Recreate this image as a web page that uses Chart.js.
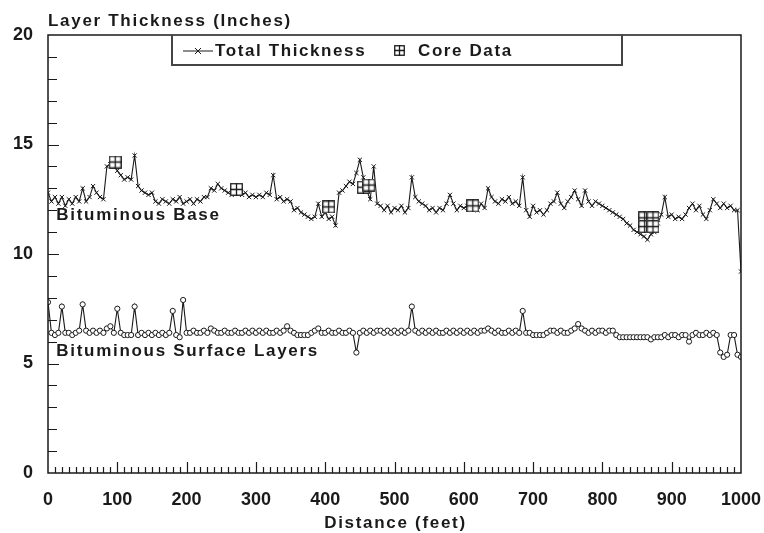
<!DOCTYPE html>
<html>
<head>
<meta charset="utf-8">
<script src="https://cdn.jsdelivr.net/npm/chart.js@4/dist/chart.umd.min.js"></script>
<style>
	html, body { margin: 0; padding: 0; background: #fff; }
	canvas { display: block; }
</style>
</head>
<body>
<canvas id="layer-chart" width="764" height="533"></canvas>
<script>
//distance along the section, one reading every 5 feet
let distance = [];
for (let d = 0; d <= 1000; d += 5) distance.push(d);

//total thickness (inches), 0 to 1000 ft
let totalThickness = [
	12.8, 12.4, 12.6, 12.3, 12.6, 12.2, 12.5, 12.3, 12.6, 12.4,
	13.0, 12.4, 12.6, 13.1, 12.8, 12.6, 12.5, 14.0, 14.1, 14.2,
	13.8, 13.6, 13.4, 13.5, 13.4, 14.5, 13.1, 12.9, 12.8, 12.7,
	12.8, 12.4, 12.3, 12.5, 12.4, 12.3, 12.5, 12.4, 12.6, 12.3,
	12.4, 12.5, 12.3, 12.5, 12.4, 12.6, 12.6, 13.0, 12.9, 13.2,
	13.0, 12.9, 12.8, 12.7, 12.9, 12.8, 12.7, 12.8, 12.6, 12.7,
	12.6, 12.7, 12.6, 12.8, 12.7, 13.6, 12.5, 12.6, 12.4, 12.5,
	12.4, 12.0, 12.1, 11.9, 11.8, 11.7, 11.6, 11.7, 12.3, 11.7,
	11.9, 11.6, 11.7, 11.3, 12.8, 12.9, 13.1, 13.3, 13.2, 13.7,
	14.3, 13.5, 12.9, 12.5, 14.0, 12.3, 12.2, 12.0, 12.2, 11.9,
	12.1, 12.0, 12.2, 11.9, 12.1, 13.5, 12.6, 12.4, 12.3, 12.2,
	12.0, 12.1, 11.9, 12.1, 12.0, 12.3, 12.7, 12.3, 12.0, 12.2,
	12.1, 12.2, 12.1, 12.2, 12.0, 12.3, 12.1, 13.0, 12.6, 12.4,
	12.3, 12.5, 12.4, 12.6, 12.3, 12.4, 12.2, 13.5, 12.0, 11.7,
	12.2, 11.9, 12.0, 11.8, 12.0, 12.3, 12.4, 12.8, 12.3, 12.1,
	12.4, 12.6, 12.9, 12.5, 12.2, 12.9, 12.4, 12.2, 12.4, 12.3,
	12.2, 12.1, 12.0, 11.9, 11.8, 11.7, 11.6, 11.4, 11.3, 11.1,
	11.0, 10.9, 10.8, 10.65, 10.9, 11.0, 11.4, 11.8, 12.6, 11.7,
	11.8, 11.6, 11.7, 11.6, 11.8, 12.1, 12.3, 12.0, 12.2, 11.8,
	11.6, 12.0, 12.5, 12.3, 12.1, 12.3, 12.1, 12.2, 12.0, 12.0,
	9.2
];

//bituminous surface layers (inches), 0 to 1000 ft
let surfaceLayers = [
	7.8, 6.4, 6.3, 6.4, 7.6, 6.4, 6.4, 6.3, 6.4, 6.5,
	7.7, 6.5, 6.4, 6.5, 6.4, 6.5, 6.4, 6.6, 6.7, 6.4,
	7.5, 6.4, 6.3, 6.3, 6.3, 7.6, 6.3, 6.4, 6.3, 6.4,
	6.3, 6.4, 6.3, 6.4, 6.3, 6.4, 7.4, 6.3, 6.2, 7.9,
	6.4, 6.4, 6.5, 6.4, 6.4, 6.5, 6.4, 6.6, 6.5, 6.4,
	6.4, 6.5, 6.4, 6.4, 6.5, 6.4, 6.4, 6.5, 6.4, 6.5,
	6.4, 6.5, 6.4, 6.5, 6.4, 6.4, 6.5, 6.4, 6.5, 6.7,
	6.5, 6.4, 6.3, 6.3, 6.3, 6.3, 6.4, 6.5, 6.6, 6.4,
	6.4, 6.5, 6.4, 6.4, 6.5, 6.4, 6.4, 6.5, 6.4, 5.5,
	6.4, 6.5, 6.4, 6.5, 6.4, 6.5, 6.5, 6.4, 6.5, 6.4,
	6.5, 6.4, 6.5, 6.4, 6.5, 7.6, 6.5, 6.4, 6.5, 6.4,
	6.5, 6.4, 6.5, 6.4, 6.4, 6.5, 6.4, 6.5, 6.4, 6.5,
	6.4, 6.5, 6.4, 6.5, 6.4, 6.5, 6.5, 6.6, 6.5, 6.4,
	6.5, 6.4, 6.4, 6.5, 6.4, 6.5, 6.4, 7.4, 6.4, 6.4,
	6.3, 6.3, 6.3, 6.3, 6.4, 6.5, 6.5, 6.4, 6.5, 6.4,
	6.4, 6.5, 6.6, 6.8, 6.6, 6.5, 6.4, 6.5, 6.4, 6.5,
	6.5, 6.4, 6.5, 6.5, 6.3, 6.2, 6.2, 6.2, 6.2, 6.2,
	6.2, 6.2, 6.2, 6.2, 6.1, 6.2, 6.2, 6.2, 6.3, 6.2,
	6.3, 6.3, 6.2, 6.3, 6.3, 6.0, 6.3, 6.4, 6.3, 6.3,
	6.4, 6.3, 6.4, 6.3, 5.5, 5.3, 5.4, 6.3, 6.3, 5.4,
	5.3
];

//core samples
let coreDistance = [97, 272, 405, 455, 463, 613, 861, 873, 861, 873];
let coreThickness = [14.2, 12.95, 12.15, 13.05, 13.15, 12.2, 11.65, 11.65, 11.25, 11.25];

//tick labels
let xTicks = [0, 100, 200, 300, 400, 500, 600, 700, 800, 900, 1000];
let yTicks = [0, 5, 10, 15, 20];

const fontName = '"Liberation Sans", Arial, sans-serif';
const ink = "#1a1a1a";

//boxed plus marker for the core data
function makeCoreIcon(size) {
	let c = document.createElement("canvas");
	c.width = size;
	c.height = size;
	let g = c.getContext("2d");
	g.fillStyle = "#fff";
	g.fillRect(0, 0, size, size);
	g.strokeStyle = ink;
	g.lineWidth = 1.3;
	g.strokeRect(0.75, 0.75, size - 1.5, size - 1.5);
	g.beginPath();
	g.moveTo(size / 2, 0);
	g.lineTo(size / 2, size);
	g.moveTo(0, size / 2);
	g.lineTo(size, size / 2);
	g.stroke();
	return c;
}
let coreIcon = makeCoreIcon(13);
let coreLegendIcon = makeCoreIcon(11);

//frame, minor ticks, texts, legend
let decorations = {
	id: "decorations",
	afterDraw(chart) {
		let ctx = chart.ctx;
		let a = chart.chartArea;
		let x = chart.scales.x;
		let y = chart.scales.y;
		ctx.save();
		ctx.strokeStyle = ink;
		ctx.lineWidth = 1.5;
		ctx.strokeRect(a.left, a.top, a.right - a.left, a.bottom - a.top);

		ctx.lineWidth = 1.2;
		ctx.beginPath();
		for (let v = 10; v < 1000; v += 10) {
			let px = Math.round(x.getPixelForValue(v)) + 0.5;
			let len = v % 100 === 0 ? 11 : 6;
			ctx.moveTo(px, a.bottom);
			ctx.lineTo(px, a.bottom - len);
		}
		for (let v = 1; v < 20; v++) {
			let py = Math.round(y.getPixelForValue(v)) + 0.5;
			let len = v % 5 === 0 ? 11 : 9;
			ctx.moveTo(a.left, py);
			ctx.lineTo(a.left + len, py);
		}
		ctx.stroke();

		//texts, letter spaced like the original
		ctx.fillStyle = ink;
		ctx.font = "bold 17px " + fontName;
		ctx.letterSpacing = "1.7px";
		ctx.textBaseline = "middle";
		ctx.textAlign = "left";
		ctx.fillText("Layer Thickness (Inches)", a.left, 21);
		ctx.fillText("Bituminous Base", x.getPixelForValue(12), y.getPixelForValue(11.78));
		ctx.fillText("Bituminous Surface Layers", x.getPixelForValue(12), y.getPixelForValue(5.57));
		ctx.textAlign = "center";
		ctx.fillText("Distance (feet)", (a.left + a.right) / 2 + 1, 523);
		ctx.textAlign = "left";

		//legend box hanging from the top border
		let lx = a.left + 124;
		let lr = a.left + 574;
		let lt = a.top;
		let lb = a.top + 30;
		ctx.fillStyle = "#fff";
		ctx.fillRect(lx, lt + 1, lr - lx, lb - lt - 1);
		ctx.strokeStyle = "#444";
		ctx.lineWidth = 2;
		ctx.beginPath();
		ctx.moveTo(lx, lt);
		ctx.lineTo(lx, lb);
		ctx.lineTo(lr, lb);
		ctx.lineTo(lr, lt);
		ctx.stroke();

		let ly = lt + 16;
		ctx.strokeStyle = ink;
		ctx.lineWidth = 1;
		ctx.beginPath();
		ctx.moveTo(lx + 11, ly);
		ctx.lineTo(lx + 41, ly);
		ctx.moveTo(lx + 23, ly - 3);
		ctx.lineTo(lx + 29, ly + 3);
		ctx.moveTo(lx + 29, ly - 3);
		ctx.lineTo(lx + 23, ly + 3);
		ctx.stroke();
		ctx.fillStyle = ink;
		ctx.letterSpacing = "1.6px";
		ctx.fillText("Total Thickness", lx + 43, ly);
		ctx.drawImage(coreLegendIcon, lx + 222, ly - 6);
		ctx.fillText("Core Data", lx + 246, ly);
		ctx.restore();
	},
};

//drop the extra side padding that the tick labels ask for
function fitX(s) {
	s.height = 60;
	s.paddingLeft = 0;
	s.paddingRight = 0;
}

let layerCTX = document.getElementById("layer-chart");
let layerChart = new Chart(layerCTX, {
	type: "line",
	data: {
		datasets: [
			{
				label: "Core Data",
				type: "scatter",
				data: coreDistance.map((d, i) => ({ x: d, y: coreThickness[i] })),
				pointStyle: coreIcon,
				showLine: false,
			},
			{
				label: "Total Thickness",
				data: distance.map((d, i) => ({ x: d, y: totalThickness[i] })),
				borderColor: ink,
				borderWidth: 1.1,
				pointStyle: "crossRot",
				pointRadius: 3,
				pointBorderWidth: 1,
				pointBorderColor: ink,
				tension: 0,
			},
			{
				label: "Bituminous Surface Layers",
				data: distance.map((d, i) => ({ x: d, y: surfaceLayers[i] })),
				borderColor: ink,
				borderWidth: 1.1,
				pointStyle: "circle",
				pointRadius: 2.6,
				pointBorderWidth: 1,
				pointBorderColor: ink,
				pointBackgroundColor: "#fff",
				tension: 0,
			},
		],
	},
	options: {
		responsive: false,
		animation: false,
		layout: { padding: { top: 35, right: 23, left: 0, bottom: 0 } },
		plugins: { legend: { display: false }, tooltip: { enabled: false } },
		scales: {
			x: {
				type: "linear",
				min: 0,
				max: 1000,
				grid: { display: false, drawTicks: false },
				border: { display: false },
				afterBuildTicks: (s) => { s.ticks = xTicks.map((v) => ({ value: v })); },
				afterFit: fitX,
				ticks: {
					padding: 16,
					maxRotation: 0,
					color: ink,
					callback: (v) => String(v),
					font: { family: fontName, size: 18, weight: "bold" },
				},
			},
			y: {
				type: "linear",
				min: 0,
				max: 20,
				grid: { display: false, drawTicks: false },
				border: { display: false },
				afterBuildTicks: (s) => { s.ticks = yTicks.map((v) => ({ value: v })); },
				afterFit: (s) => { s.width = 48; s.paddingTop = 0; s.paddingBottom = 0; },
				ticks: {
					padding: 15,
					color: ink,
					callback: (v) => String(v),
					font: { family: fontName, size: 18, weight: "bold" },
				},
			},
		},
	},
	plugins: [decorations],
});
</script>
</body>
</html>
